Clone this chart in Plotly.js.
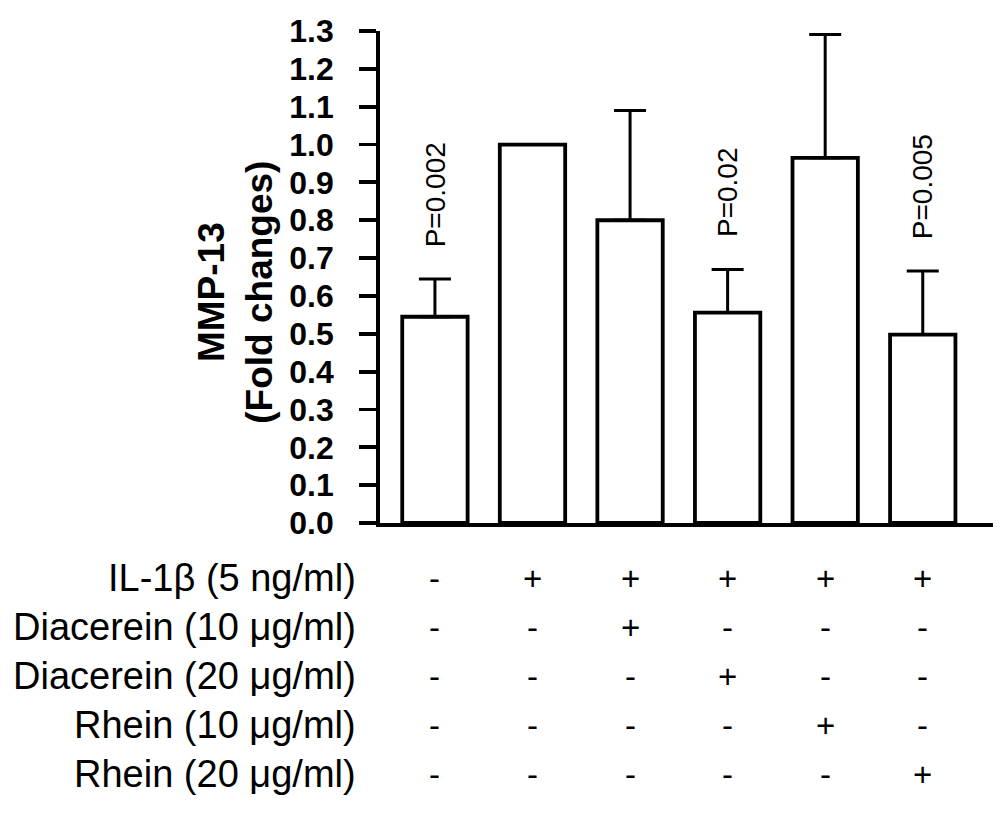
<!DOCTYPE html>
<html>
<head>
<meta charset="utf-8">
<script src="https://cdn.plot.ly/plotly-3.0.1.min.js"></script>
<style>
  html, body { margin: 0; padding: 0; background: #fff; }
  #chart { width: 1004px; height: 813px; }
</style>
</head>
<body>
<div id="chart"></div>
<script>
// bar values (fold change of MMP-13)
const groups = ['ctrl', 'il1b', 'dia10', 'dia20', 'rh10', 'rh20'];
const foldChange = [0.545, 1.0, 0.80, 0.556, 0.965, 0.498];
const errUp = [0.10, 0, 0.29, 0.114, 0.326, 0.168];
const pLabels = ['P=0.002', '', '', 'P=0.02', '', 'P=0.005'];

// treatment table under the chart
const rowLabels = ['IL-1\u03b2 (5 ng/ml)', 'Diacerein (10 \u03bcg/ml)', 'Diacerein (20 \u03bcg/ml)',
                   'Rhein (10 \u03bcg/ml)', 'Rhein (20 \u03bcg/ml)'];
const il1b  = ['-', '+', '+', '+', '+', '+'];
const dia10 = ['-', '-', '+', '-', '-', '-'];
const dia20 = ['-', '-', '-', '+', '-', '-'];
const rh10  = ['-', '-', '-', '-', '+', '-'];
const rh20  = ['-', '-', '-', '-', '-', '+'];
const tableRows = [il1b, dia10, dia20, rh10, rh20];

const FONT = 'Liberation Sans, Arial, Helvetica, sans-serif';
const xIdx = groups.map((g, i) => i);

const trace = {
    type: 'bar',
    x: xIdx,
    y: foldChange,
    width: 0.67,
    marker: { color: '#ffffff', line: { color: '#000000', width: 3.8 } },
    error_y: { type: 'data', array: errUp, arrayminus: errUp.map(() => 0), symmetric: false,
               color: '#000000', thickness: 3, width: 16 },
    cliponaxis: false,
    hoverinfo: 'skip'
};

// plot area in px (used only for placing the table text)
const plotTop = 31, plotBottom = 523, plotH = plotBottom - plotTop;
const rowY0 = 578, rowStep = 49;
const pxToPaper = py => (plotBottom - py) / plotH;

const annotations = [];
pLabels.forEach((t, i) => {
    if (!t) return;
    annotations.push({
        x: i, y: foldChange[i] + errUp[i], xref: 'x', yref: 'y',
        text: t, textangle: -90, showarrow: false,
        xanchor: 'center', yanchor: 'bottom', yshift: 30,
        font: { family: FONT, size: 28, color: '#000' }
    });
});
rowLabels.forEach((lab, r) => {
    const yp = pxToPaper(rowY0 + r * rowStep);
    annotations.push({
        x: -0.036, y: yp, xref: 'paper', yref: 'paper', text: lab,
        xanchor: 'right', yanchor: 'middle', showarrow: false,
        font: { family: FONT, size: 38, color: '#000' }
    });
    tableRows[r].forEach((s, i) => {
        annotations.push({
            x: i, y: yp, xref: 'x', yref: 'paper', text: s,
            xanchor: 'center', yanchor: 'middle', showarrow: false,
            font: { family: FONT, size: 33, color: '#000' }
        });
    });
});
// y axis title, two lines, rotated
annotations.push({
    x: -0.235, y: 0.47, xref: 'paper', yref: 'paper',
    text: '<b>MMP-13</b><br><b>(Fold changes)</b>', textangle: -90, showarrow: false,
    xanchor: 'center', yanchor: 'middle',
    font: { family: FONT, size: 37, color: '#000' }
});

const layout = {
    width: 1004,
    height: 813,
    margin: { l: 380, r: 11, t: plotTop, b: 813 - plotBottom, pad: 0 },
    paper_bgcolor: '#ffffff',
    plot_bgcolor: '#ffffff',
    showlegend: false,
    font: { family: FONT, color: '#000' },
    xaxis: {
        range: [-0.563, 5.72],
        showticklabels: false, ticks: '', showgrid: false, zeroline: false,
        showline: true, linecolor: '#000', linewidth: 3.8
    },
    yaxis: {
        range: [0, 1.3], dtick: 0.1, tick0: 0, tickformat: '.1f',
        ticks: 'outside', ticklen: 17, tickwidth: 3.8, tickcolor: '#000',
        showline: true, linecolor: '#000', linewidth: 3.8,
        showgrid: false, zeroline: false,
        ticklabelstandoff: 19,
        tickfont: { family: FONT, size: 32, color: '#000', weight: 'bold' }
    },
    annotations: annotations
};

Plotly.newPlot('chart', [trace], layout, { displayModeBar: false, staticPlot: true });
</script>
</body>
</html>
